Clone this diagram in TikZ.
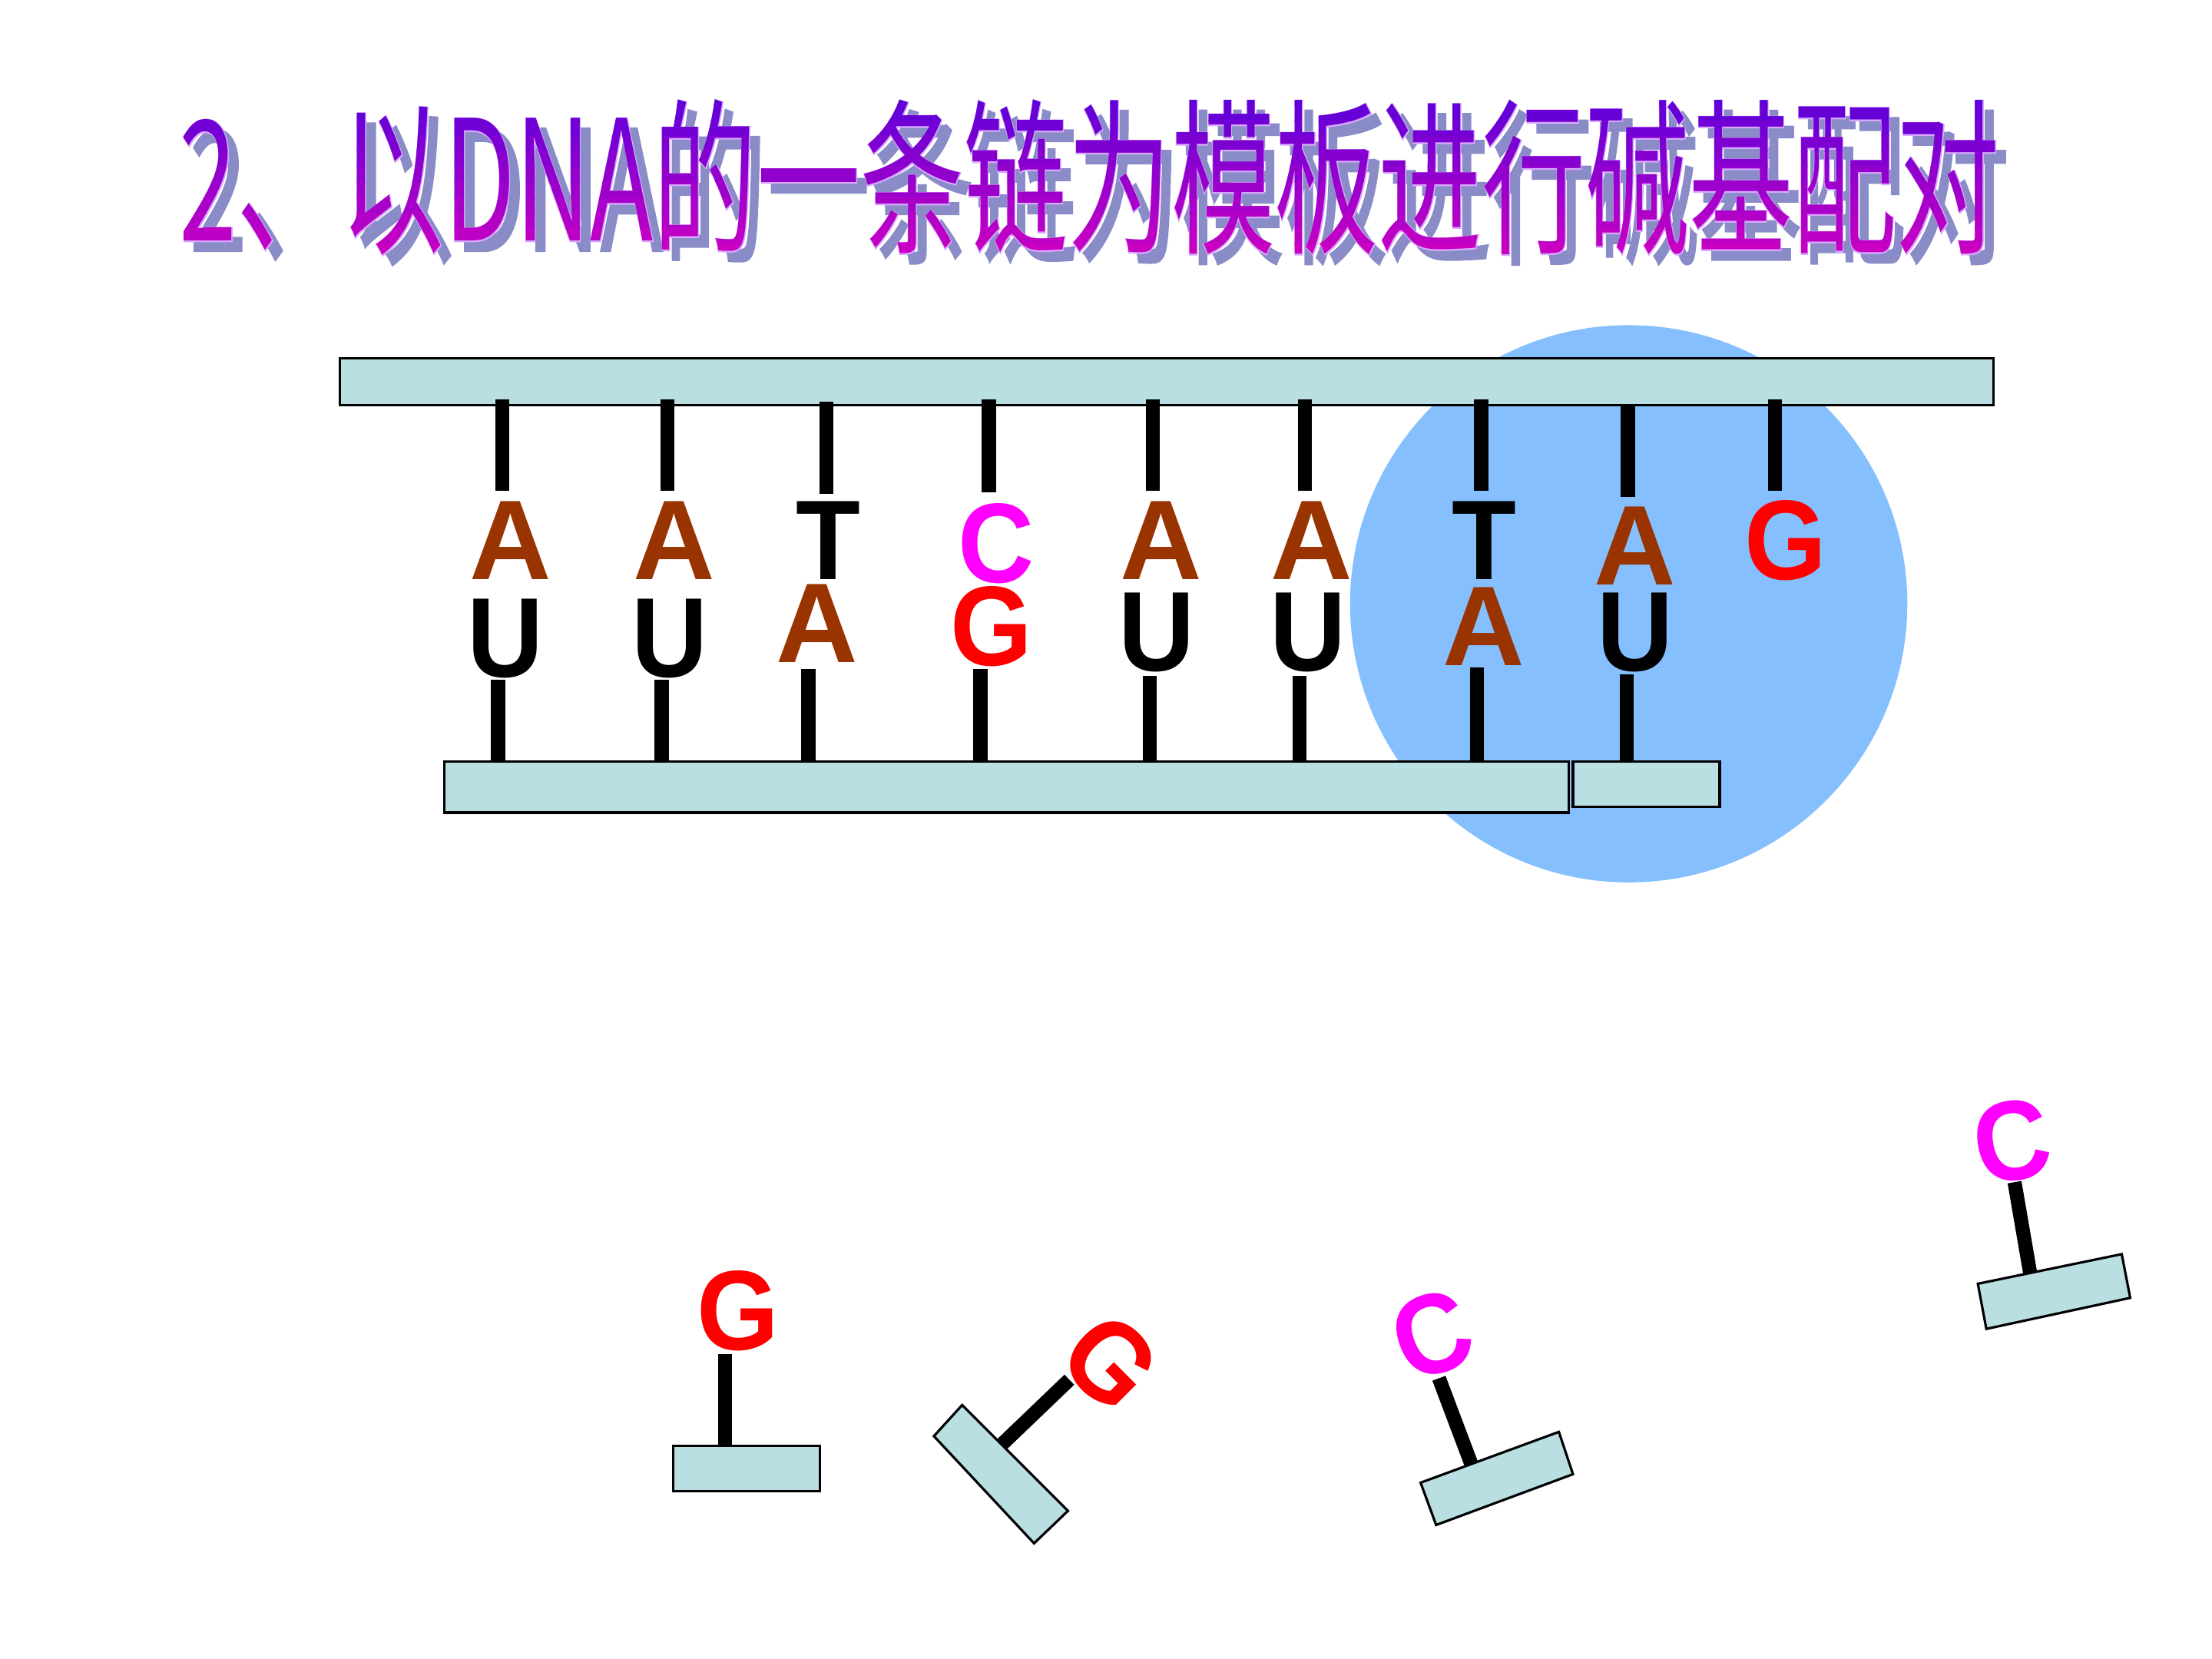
\documentclass[tikz,border=0pt]{standalone}
\usepackage{fontspec}
\usepackage{graphicx}
\setmainfont{Liberation Sans}
\newfontfamily\headfont{Noto Sans CJK SC}
\newfontfamily\headfontfat[FakeBold=1.2]{Noto Sans CJK SC}
\newfontfamily\basefont{Liberation Sans Bold}
\newfontfamily\basefontnarrow[FakeStretch=0.93]{Liberation Sans Bold}
\definecolor{strand}{HTML}{B9DFE3}
\definecolor{enzyme}{HTML}{85BFFE}
\definecolor{adenine}{HTML}{993300}
\definecolor{pinkletter}{HTML}{FF00FF}
\definecolor{redletter}{HTML}{FF0000}
\definecolor{headshadow}{HTML}{8A8CC8}
\definecolor{headrim}{HTML}{D8A8FF}
\definecolor{headtop}{HTML}{5A00D8}
\definecolor{headbottom}{HTML}{D400C0}
\newcommand{\headline}[1]{\scalebox{0.619}[1]{\fontsize{62}{62}#1{}2、以DNA的一条链为模板进行碱基配对}}
\tikzset{
  x=0.018367cm, y=-0.018367cm,
  strandbox/.style={draw=black, line width=0.9pt, fill=strand},
  stick/.style={draw=black, line width=5.2pt},
  base/.style={font=\basefont\fontsize{42}{42}\selectfont, inner sep=0pt, text height=30pt, text depth=0pt},
  narrowbase/.style={font=\basefontnarrow\fontsize{42}{42}\selectfont, inner sep=0pt, text height=30pt, text depth=0pt},
  adeninebase/.style={base, text=adenine},
  redbase/.style={narrowbase, text=redletter},
  pinkbase/.style={narrowbase, text=pinkletter},
  blackbase/.style={narrowbase, text=black},
  head/.style={inner sep=0pt, anchor=center}
}
\begin{document}
\begin{tikzpicture}
\useasboundingbox (0,0) rectangle (1568,1176);
\fill[white] (0,0) rectangle (1568,1176);

% Heading: drop shadow, rim, then a vertical colour ramp built from clipped strips
\node[head, text=headshadow] (headshadowtext) at (779.5,133) {\headline{\headfontfat}};
\node[head, text=headrim] (headrimtext) at (772.5,126) {\headline{\headfontfat}};
\foreach \i in {0,...,11}{
  \pgfmathsetmacro{\mixval}{100*\i/11}
  \colorlet{stripcolor}{headbottom!\mixval!headtop}
  \begin{scope}
    \clip (100,{63+\i*11}) rectangle (1450,{63+(\i+1)*11+0.5});
    \node[head, text=stripcolor] at (772.5,126) {\headline{\headfont}};
  \end{scope}
}

% Polymerase disc behind the strands
\node[circle, fill=enzyme, minimum size=395*0.018367cm, inner sep=0pt] (disc) at (1154.5,428) {};

% Template strand and the growing strand
\draw[strandbox] (241,254) rectangle (1413,287);
\draw[strandbox] (315,540) rectangle (1112,576);
\draw[strandbox] (1115,540) rectangle (1219,572);

% Sticks on the template strand
\foreach \x/\a/\b in {356/283/348,473/283/348,586/285/350,701/283/349,817/283/348,925/283/348,1050/283/348,1154/287/352,1258/283/348}
  \draw[stick] (\x,\a) -- (\x,\b);
% Sticks on the paired strand
\foreach \x/\a in {353/482,469/482,573/474,695/474,815/479,921/479,1047/473,1153/478}
  \draw[stick] (\x,\a) -- (\x,540);

% Upper row of bases
\node[adeninebase] (u1) at (362,382) {A};
\node[adeninebase] (u2) at (478,382) {A};
\node[blackbase]   (u3) at (587,382) {T};
\node[pinkbase]    (u4) at (706,384) {C};
\node[adeninebase] (u5) at (823,382) {A};
\node[adeninebase] (u6) at (930,382) {A};
\node[blackbase]   (u7) at (1052,382) {T};
\node[adeninebase] (u8) at (1159,386) {A};
\node[redbase]     (u9) at (1266,382) {G};
% Lower row of bases
\node[blackbase]   (l1) at (358,451) {U};
\node[blackbase]   (l2) at (475,451) {U};
\node[adeninebase] (l3) at (579,441) {A};
\node[redbase]     (l4) at (703,443) {G};
\node[blackbase]   (l5) at (820,447) {U};
\node[blackbase]   (l6) at (927,447) {U};
\node[adeninebase] (l7) at (1052,443) {A};
\node[blackbase]   (l8) at (1159,447) {U};

% Free nucleotides
\draw[stick] (514,960) -- (514,1025);
\draw[strandbox] (477,1025) rectangle (581,1057);
\node[redbase] (g1) at (523,928) {G};

\draw[stick] (758,978) -- (710,1024);
\draw[strandbox] (662,1018) -- (682,996) -- (757,1071) -- (733,1094) -- cycle;
\node[redbase, rotate=-45] (g2) at (788,965) {G};

\draw[stick] (1020,977) -- (1043,1038);
\draw[strandbox] (1007,1051) -- (1105,1015) -- (1115,1045) -- (1018,1081) -- cycle;
\node[pinkbase, rotate=20] (c1) at (1015,945) {C};

\draw[stick] (1428,838) -- (1439,902);
\draw[strandbox] (1402,910) -- (1504,889) -- (1510,920) -- (1408,942) -- cycle;
\node[pinkbase, rotate=10] (c2) at (1426,808) {C};
\end{tikzpicture}
\end{document}
